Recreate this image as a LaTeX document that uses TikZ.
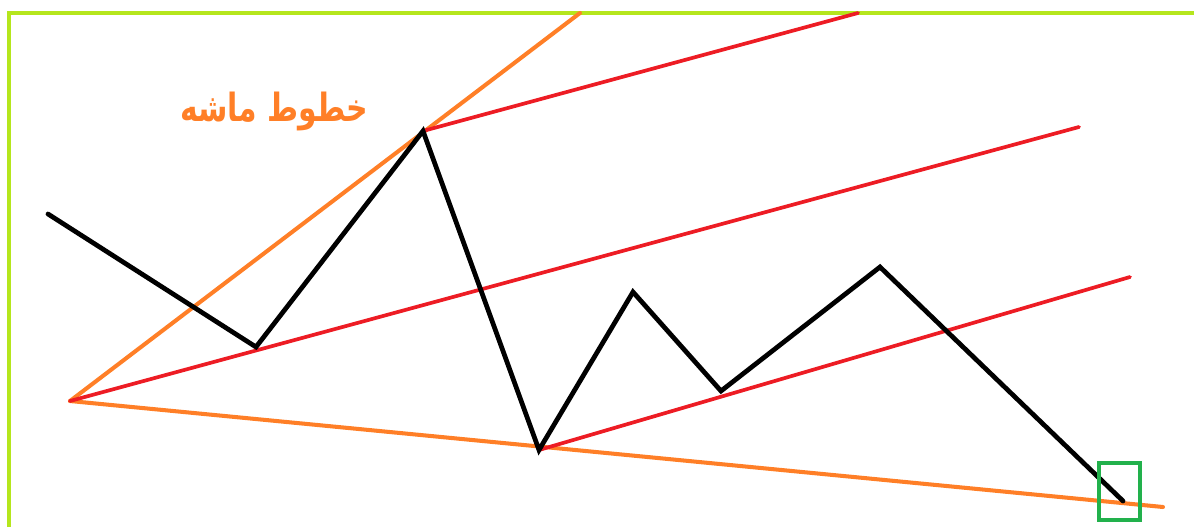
\documentclass[tikz,border=0pt]{standalone}
\usepackage{fontspec}
\usepackage{tikz}
\usetikzlibrary{positioning, calc}
\TeXXeTstate=1
\newfontfamily\arabicfont[Script=Arabic]{DejaVu Sans}
\definecolor{FrameLime}{HTML}{B5E61D}
\definecolor{ForkOrange}{HTML}{FF7F27}
\definecolor{RayRed}{HTML}{ED1C24}
\definecolor{BoxGreen}{HTML}{22B14C}

\begin{document}
\begin{tikzpicture}[
  x=0.02cm, y=-0.02cm,
  frame/.style={FrameLime, line width=2.1pt},
  fork/.style={ForkOrange, line width=2.3pt, line cap=round},
  ray/.style={RayRed, line width=2.1pt, line cap=round},
  price/.style={black, line width=2.7pt, line join=miter, line cap=round},
  target/.style={draw=BoxGreen, line width=2.6pt, inner sep=0pt,
    minimum width=0.82cm, minimum height=1.14cm},
  title/.style={text=ForkOrange, font=\arabicfont\bfseries\fontsize{17pt}{20pt}\selectfont, inner sep=0pt},
]
  \useasboundingbox (0,0) rectangle (1194,527);

  \coordinate (apex) at (70,401);
  \coordinate (forkTop) at (580,13);
  \coordinate (forkEnd) at (1163,507);

  \coordinate (p0) at (48,214);
  \coordinate (p1) at (256,347);
  \coordinate (p2) at (423,131);
  \coordinate (p3) at (539,450);
  \coordinate (p4) at (633,292);
  \coordinate (p5) at (721,391);
  \coordinate (p6) at (880,267);
  \coordinate (p7) at (1123,501);

  \coordinate (rayA) at (1079,127);
  \coordinate (rayB) at (858,13);
  \coordinate (rayC) at (1130,277);

  \coordinate (fl) at (9,527);
  \coordinate (ftl) at (9,12.7);
  \coordinate (ftr) at (1194,12.7);

  \draw[frame] (fl) -- (ftl) -- (ftr);

  \draw[fork] (apex) -- (forkTop);
  \draw[fork] (apex) -- (forkEnd);

  \draw[ray] (apex) -- (rayA);
  \draw[ray] (p2) -- (rayB);
  \draw[ray] (p3) -- (rayC);

  \draw[price] (p0) -- (p1) -- (p2) -- (p3) -- (p4) -- (p5) -- (p6) -- (p7);

  \node[target] (tgt) at (1119.5,491.5) {};

  \node[title] (lbl) at (274,111) {\scalebox{1}[1.3]{\beginR خطوط ماشه\endR}};
\end{tikzpicture}
\end{document}
